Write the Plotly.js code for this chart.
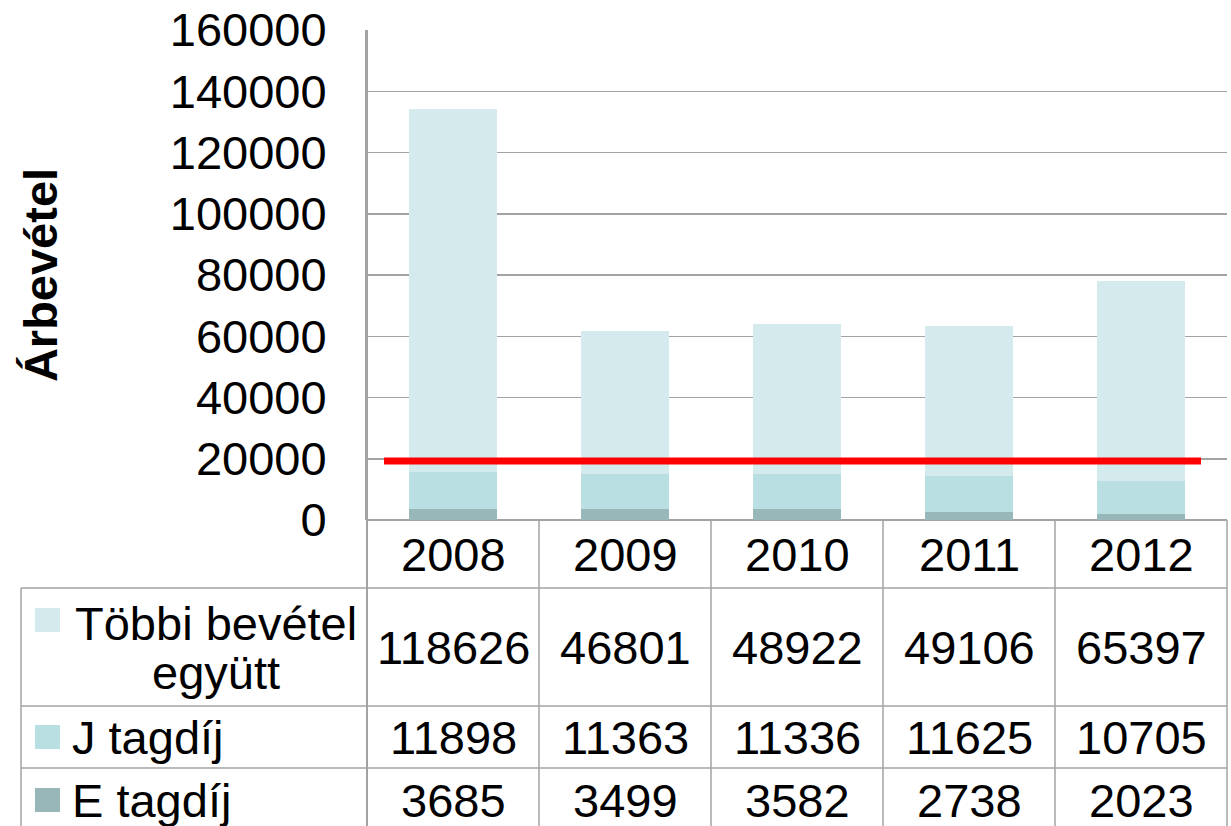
<!DOCTYPE html>
<html>
<head>
<meta charset="utf-8">
<script src="https://cdn.plot.ly/plotly-3.0.1.min.js"></script>
<style>html,body{margin:0;padding:0;background:#fff;}#chart{width:1231px;height:826px;}</style>
</head>
<body>
<div id="chart"></div>
<script>
// ---- data ----
const years = ["2008", "2009", "2010", "2011", "2012"];
const seriesNames = ["Többi bevétel<br>együtt", "J tagdíj", "E tagdíj"];
const tobbiBevetel = [118626, 46801, 48922, 49106, 65397];
const jTagdij = [11898, 11363, 11336, 11625, 10705];
const eTagdij = [3685, 3499, 3582, 2738, 2023];
const threshold = [19300];
const yTicks = [0, 20000, 40000, 60000, 80000, 100000, 120000, 140000, 160000];

// ---- styling ----
const FONT = '"Liberation Sans", Arial, sans-serif';
const FS = 47;
const colors = { tobbi: "#d5eaed", j: "#b9dfe2", e: "#97b7b8" };
const lineColor = "#a3a3a3";

// pixel helpers for layout geometry (positions only)
const W = 1231, H = 826;
const L = 367, R = 1227, T = 30, B = 520;
const px = x => (x - L) / (R - L);
const py = y => (B - y) / (B - T);

const traces = [
  { type: "bar", name: "E tagdíj", x: years, y: eTagdij, marker: { color: colors.e }, hoverinfo: "x+y+name" },
  { type: "bar", name: "J tagdíj", x: years, y: jTagdij, marker: { color: colors.j }, hoverinfo: "x+y+name" },
  { type: "bar", name: "Többi bevétel együtt", x: years, y: tobbiBevetel, marker: { color: colors.tobbi }, hoverinfo: "x+y+name" }
];

const shapes = [];
const annotations = [];

// red threshold line
shapes.push({ type: "line", xref: "paper", yref: "y", x0: px(384), x1: px(1201), y0: threshold[0], y1: threshold[0],
  line: { color: "#ff0000", width: 7 }, layer: "above" });

// table geometry
const tableLeft = px(21);
const rowLines = [588, 706, 768];
const bottom = py(840);
rowLines.forEach(yy => {
  shapes.push({ type: "line", xref: "paper", yref: "paper", x0: tableLeft, x1: 1, y0: py(yy), y1: py(yy),
    line: { color: lineColor, width: 1.5 }, layer: "below" });
});
// vertical lines at category boundaries
for (let k = 1; k <= years.length; k++) {
  const xx = k / years.length;
  shapes.push({ type: "line", xref: "paper", yref: "paper", x0: xx, x1: xx, y0: 0, y1: bottom,
    line: { color: lineColor, width: 1.5 }, layer: "below" });
}
// left axis line extended into table
shapes.push({ type: "line", xref: "paper", yref: "paper", x0: 0, x1: 0, y0: 1, y1: bottom,
  line: { color: lineColor, width: 2 }, layer: "above" });
// left border of table
shapes.push({ type: "line", xref: "paper", yref: "paper", x0: tableLeft, x1: tableLeft, y0: py(588), y1: bottom,
  line: { color: lineColor, width: 1.5 }, layer: "below" });

// year labels (header row)
years.forEach((yr, j) => {
  annotations.push({ xref: "x", yref: "paper", x: j, y: py(554), text: yr, showarrow: false,
    xanchor: "center", yanchor: "middle", font: { family: FONT, size: FS, color: "#000" } });
});

// table rows
const rows = [
  { vals: tobbiBevetel, cy: 647, color: colors.tobbi, sq: [608, 632] },
  { vals: jTagdij, cy: 737, color: colors.j, sq: [725, 749] },
  { vals: eTagdij, cy: 800, color: colors.e, sq: [788, 812] }
];
rows.forEach((r) => {
  r.vals.forEach((v, j) => {
    annotations.push({ xref: "x", yref: "paper", x: j, y: py(r.cy), text: String(v), showarrow: false,
      xanchor: "center", yanchor: "middle", font: { family: FONT, size: FS, color: "#000" } });
  });
  // legend key square
  shapes.push({ type: "rect", xref: "paper", yref: "paper", x0: px(35), x1: px(60), y0: py(r.sq[0]), y1: py(r.sq[1]),
    fillcolor: r.color, line: { width: 0 } });
});
// row labels (first one wraps onto two tightly spaced lines)
const firstLines = seriesNames[0].split("<br>");
const firstLineY = [624, 672];
firstLines.forEach((t, i) => {
  annotations.push({ xref: "paper", yref: "paper", x: px(216), y: py(firstLineY[i]), text: t, showarrow: false,
    xanchor: "center", yanchor: "middle", align: "center", font: { family: FONT, size: FS, color: "#000" } });
});
annotations.push({ xref: "paper", yref: "paper", x: px(70), y: py(737), text: seriesNames[1], showarrow: false,
  xanchor: "left", yanchor: "middle", font: { family: FONT, size: FS, color: "#000" } });
annotations.push({ xref: "paper", yref: "paper", x: px(70), y: py(800), text: seriesNames[2], showarrow: false,
  xanchor: "left", yanchor: "middle", font: { family: FONT, size: FS, color: "#000" } });

const layout = {
  width: W, height: H,
  margin: { l: L, r: W - R, t: T, b: H - B, pad: 0 },
  paper_bgcolor: "#fff", plot_bgcolor: "#fff",
  barmode: "stack", bargap: 0.49,
  showlegend: false,
  font: { family: FONT, size: FS, color: "#000" },
  xaxis: { type: "category", categoryorder: "array", categoryarray: years, range: [-0.5, years.length - 0.5],
    autorange: false, showticklabels: false,
    showgrid: false, zeroline: false, showline: false, ticks: "", fixedrange: true },
  yaxis: { range: [0, 160000], autorange: false, tickvals: yTicks, ticktext: yTicks.map(String),
    showgrid: true, gridcolor: lineColor, gridwidth: 1.5,
    zeroline: true, zerolinecolor: lineColor, zerolinewidth: 1.5,
    showline: true, linecolor: lineColor, linewidth: 2,
    ticks: "", ticklabelstandoff: 29,
    tickfont: { family: FONT, size: FS, color: "#000" },
    title: { text: "<b>Árbevétel</b>", font: { family: FONT, size: 47, color: "#000" }, standoff: 97 },
    automargin: false, fixedrange: true },
  shapes: shapes,
  annotations: annotations
};

Plotly.newPlot("chart", traces, layout, { displayModeBar: false, staticPlot: true });
</script>
</body>
</html>
